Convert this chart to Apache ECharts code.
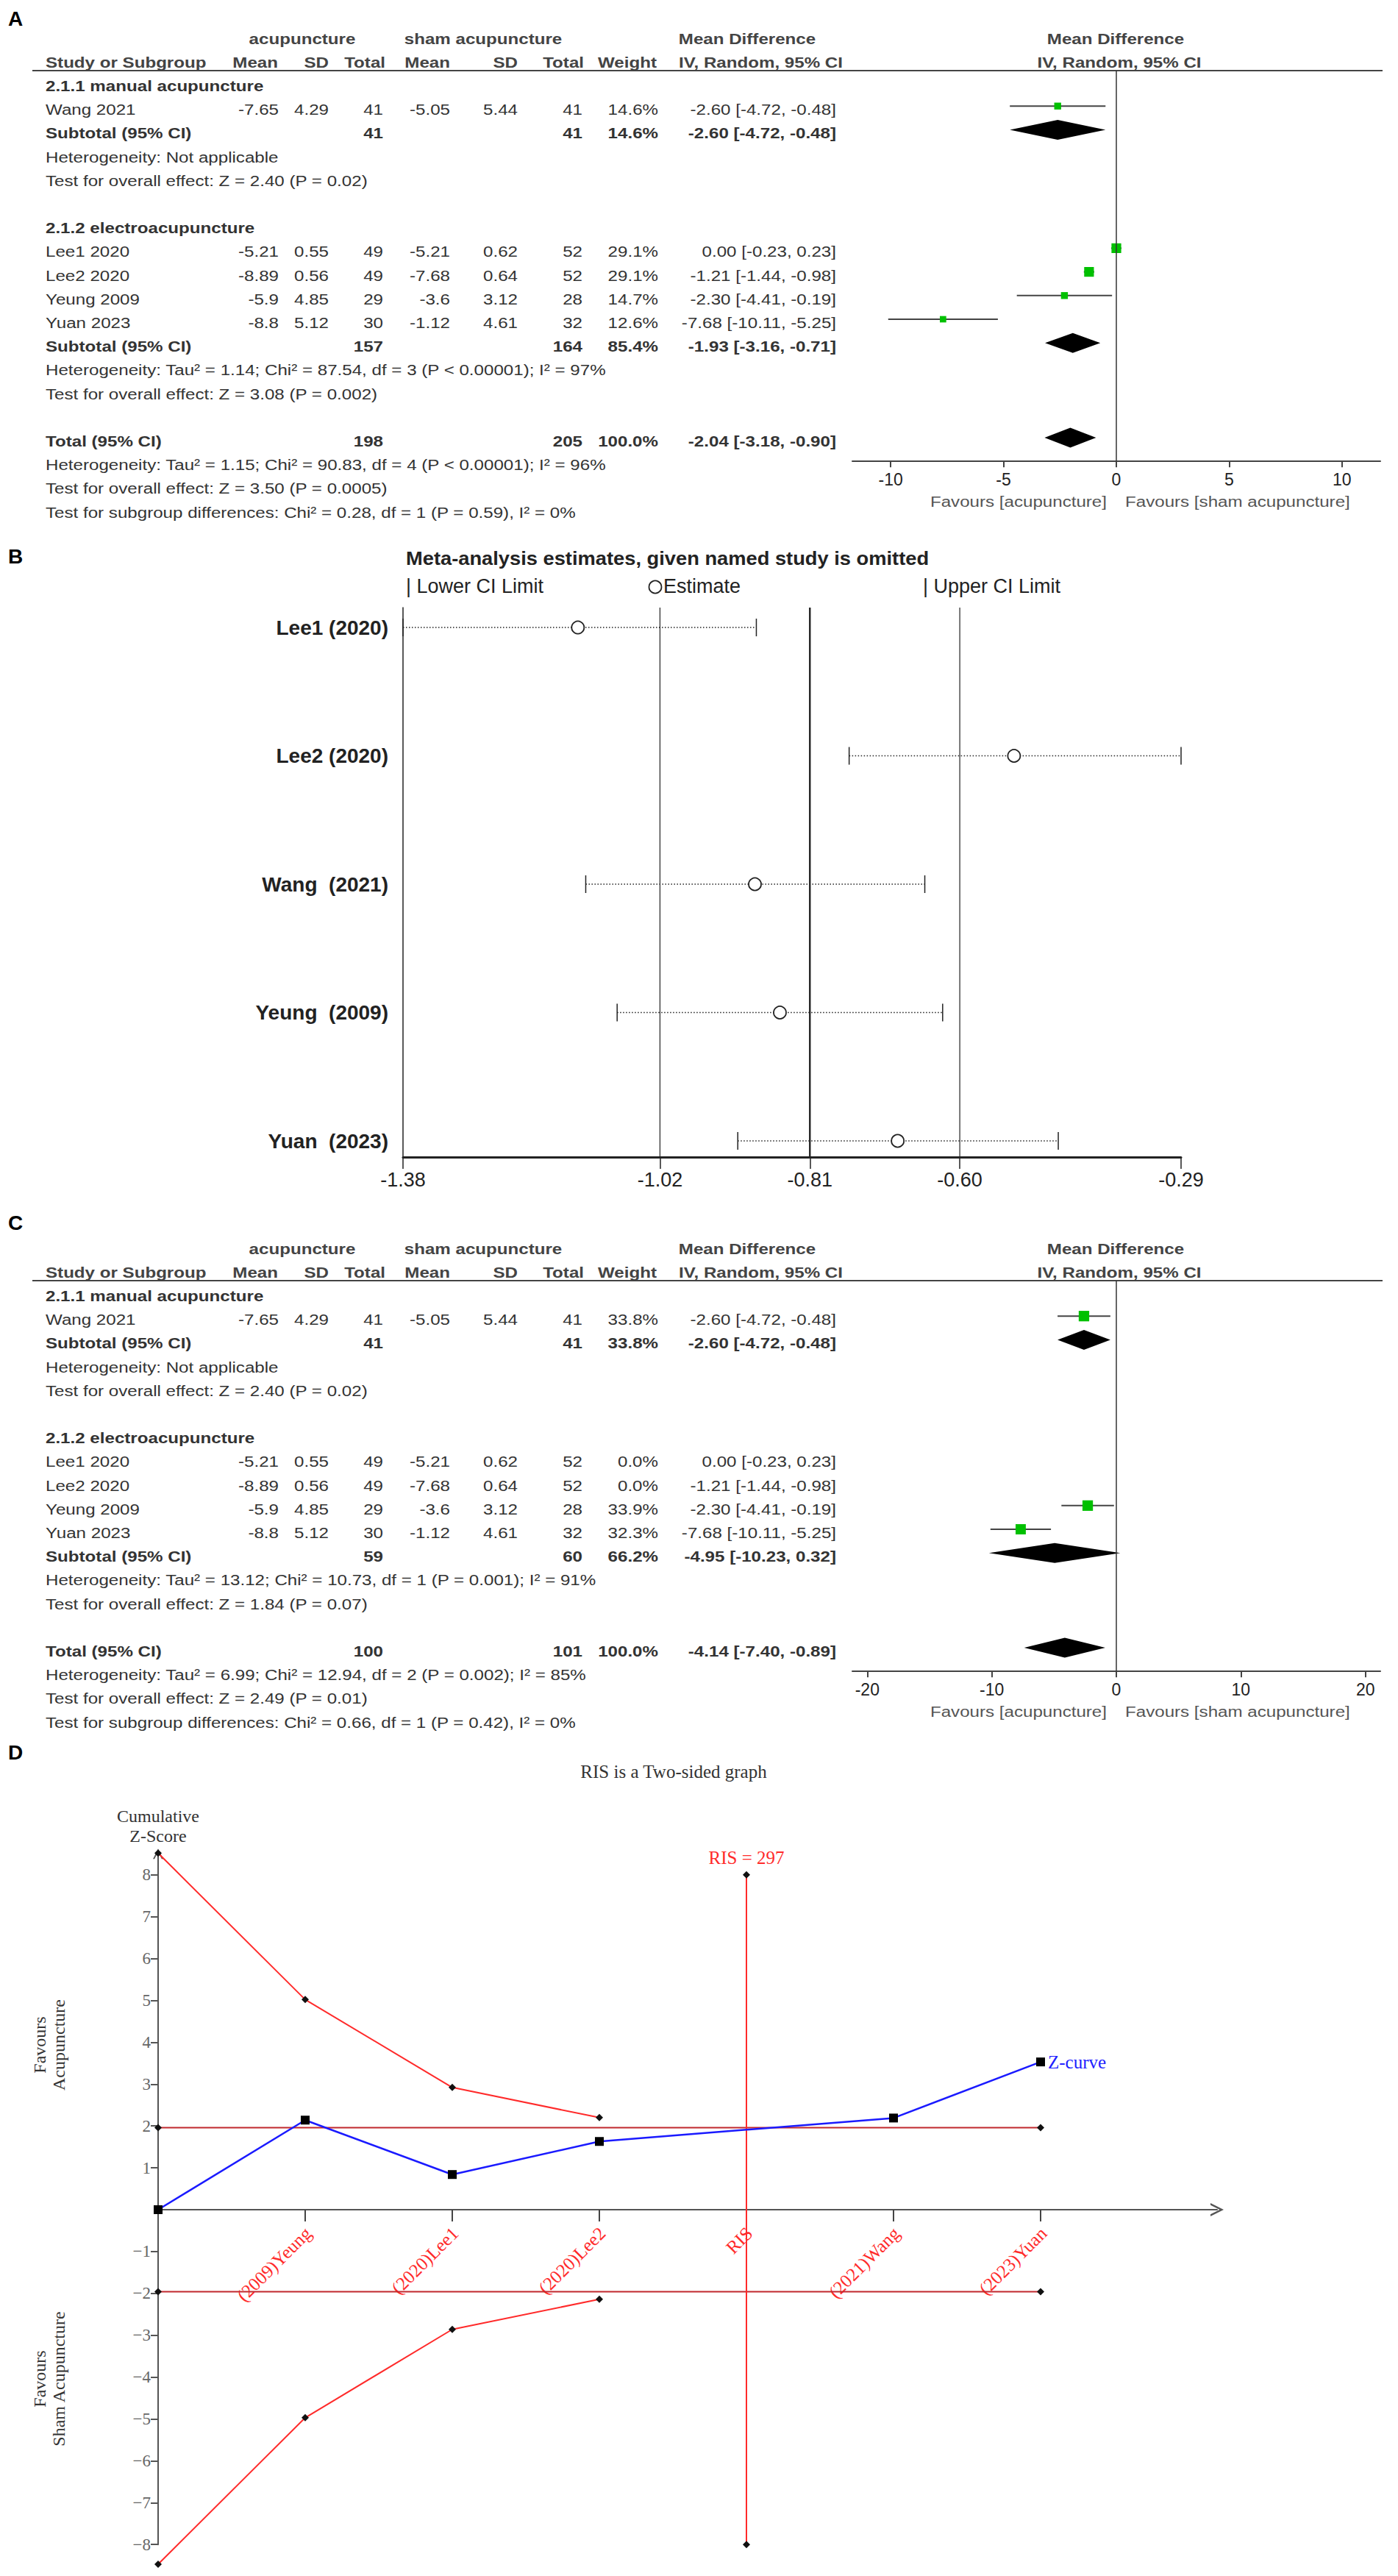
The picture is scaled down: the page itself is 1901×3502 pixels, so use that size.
<!DOCTYPE html>
<html><head><meta charset="utf-8">
<script src="https://cdn.jsdelivr.net/npm/echarts@6/dist/echarts.min.js"></script>
<style>html,body{margin:0;padding:0;background:#fff}#c{width:1901px;height:3502px}</style>
</head><body><div id="c"></div>
<script>
// ================= DATA =================
const studyNames = ['Wang 2021','Lee1 2020','Lee2 2020','Yeung 2009','Yuan 2023'];
const studyGroup = [0,1,1,1,1];
const groupLabels = ['2.1.1 manual acupuncture','2.1.2 electroacupuncture'];
const acuMean = [-7.65,-5.21,-8.89,-5.9,-8.8];
const acuSD = [4.29,0.55,0.56,4.85,5.12];
const acuN = [41,49,49,29,30];
const shamMean = [-5.05,-5.21,-7.68,-3.6,-1.12];
const shamSD = [5.44,0.62,0.64,3.12,4.61];
const shamN = [41,52,52,28,32];
const mdEst = [-2.60,0.00,-1.21,-2.30,-7.68];
const mdLow = [-4.72,-0.23,-1.44,-4.41,-10.11];
const mdHigh = [-0.48,0.23,-0.98,-0.19,-5.25];

// Panel A
const weightA = [14.6,29.1,29.1,14.7,12.6];
const subEstA = [-2.60,-1.93], subLowA = [-4.72,-3.16], subHighA = [-0.48,-0.71];
const subNAcuA = [41,157], subNShamA = [41,164], subWeightA = [14.6,85.4];
const hetA = ['Heterogeneity: Not applicable','Heterogeneity: Tau\u00b2 = 1.14; Chi\u00b2 = 87.54, df = 3 (P < 0.00001); I\u00b2 = 97%'];
const testA = ['Test for overall effect: Z = 2.40 (P = 0.02)','Test for overall effect: Z = 3.08 (P = 0.002)'];
const totalA = [-2.04,-3.18,-0.90], totalNA = [198,205];
const totalTextA = ['Heterogeneity: Tau\u00b2 = 1.15; Chi\u00b2 = 90.83, df = 4 (P < 0.00001); I\u00b2 = 96%','Test for overall effect: Z = 3.50 (P = 0.0005)','Test for subgroup differences: Chi\u00b2 = 0.28, df = 1 (P = 0.59), I\u00b2 = 0%'];
const forestTicksA = [-10,-5,0,5,10];

// Panel C
const weightC = [33.8,0.0,0.0,33.9,32.3];
const subEstC = [-2.60,-4.95], subLowC = [-4.72,-10.23], subHighC = [-0.48,0.32];
const subNAcuC = [41,59], subNShamC = [41,60], subWeightC = [33.8,66.2];
const hetC = ['Heterogeneity: Not applicable','Heterogeneity: Tau\u00b2 = 13.12; Chi\u00b2 = 10.73, df = 1 (P = 0.001); I\u00b2 = 91%'];
const testC = ['Test for overall effect: Z = 2.40 (P = 0.02)','Test for overall effect: Z = 1.84 (P = 0.07)'];
const totalC = [-4.14,-7.40,-0.89], totalNC = [100,101];
const totalTextC = ['Heterogeneity: Tau\u00b2 = 6.99; Chi\u00b2 = 12.94, df = 2 (P = 0.002); I\u00b2 = 85%','Test for overall effect: Z = 2.49 (P = 0.01)','Test for subgroup differences: Chi\u00b2 = 0.66, df = 1 (P = 0.42), I\u00b2 = 0%'];
const forestTicksC = [-20,-10,0,10,20];

// Panel B (leave-one-out)
const omitNames = ['Lee1 (2020)','Lee2 (2020)','Wang  (2021)','Yeung  (2009)','Yuan  (2023)'];
const omitEst = [-1.135,-0.524,-0.887,-0.852,-0.687];
const omitLow = [-1.38,-0.755,-1.124,-1.080,-0.911];
const omitHigh = [-0.885,-0.29,-0.649,-0.624,-0.462];
const overallCI = [-1.02,-0.81,-0.60];
const omitTicks = [-1.38,-1.02,-0.81,-0.60,-0.29];

// Panel D (TSA)
const tsaLabels = ['(2009)Yeung','(2020)Lee1','(2020)Lee2','RIS','(2021)Wang','(2023)Yuan'];
const zCurve = [0, 2.14, 0.84, 1.63, null, 2.19, 3.53];
const upperBound = [8.52, 5.02, 2.92, 2.20];
const lowerBound = [-8.47, -4.97, -2.86, -2.14];
const convBound = 1.96;
const risValue = 297;
const risRange = [8, -8];
const zTicks = [-8,-7,-6,-5,-4,-3,-2,-1,1,2,3,4,5,6,7,8];

// ================= HELPERS =================
const SANS = "'Liberation Sans', Arial, Helvetica, sans-serif";
const SERIF = "'Liberation Serif', 'Times New Roman', Times, serif";
function txt(x, y, text, o){ o = o || {};
  const al = o.align || 'left', va = o.va || 'middle';
  const st = {text:text, x:0, y:0, fill:o.color||'#333', fontSize:o.size||21, fontFamily:o.font||SANS,
    fontWeight:o.weight||'normal', align:al, textAlign:al, verticalAlign:va, textVerticalAlign:va};
  if (o.lh) st.lineHeight = o.lh;
  return {type:'text', x:x, y:y, rotation:o.rot||0, scaleX:o.sx||1, silent:true, style:st};
}
function hline(x1,y1,x2,y2,color,w){ return {type:'line', silent:true, shape:{x1,y1,x2,y2}, style:{stroke:color,lineWidth:w}}; }

function layoutSlots(){
  let s = 0; const g = {head:[], study:new Array(studyNames.length), sub:[], het:[], test:[]};
  for (let k=0;k<groupLabels.length;k++){
    g.head.push(s++);
    studyGroup.forEach((gg,i)=>{ if (gg===k) g.study[i] = s++; });
    g.sub.push(s++); g.het.push(s++); g.test.push(s++); s++;
  }
  g.total = s++; g.totHet = s++; g.totTest = s++; g.subDiff = s++;
  return g;
}
const SL = layoutSlots();
const ROW0 = 117, ROWH = 32.2, TSX = 1.15;
const colR = [379,447,521,612,704,792,895,1137];
const fmt2 = v => v.toFixed(2);
const ciStr = (e,l,h) => fmt2(e)+' ['+fmt2(l)+', '+fmt2(h)+']';

function tableGraphics(offY, P){
  const G = [];
  const T = (x,y,t,o) => G.push(txt(x,y,t,Object.assign({sx:TSX}, o||{})));
  const ry = s => offY + ROW0 + ROWH*s;
  const B = {weight:'bold', color:'#333'};
  const H = {weight:'bold', color:'#444'};
  T(411, offY+53, 'acupuncture', Object.assign({align:'center'},H));
  T(657, offY+53, 'sham acupuncture', Object.assign({align:'center'},H));
  T(1016, offY+53, 'Mean Difference', Object.assign({align:'center'},H));
  T(62, offY+85, 'Study or Subgroup', H);
  const hdr = ['Mean','SD','Total','Mean','SD','Total','Weight','IV, Random, 95% CI'];
  const hdrX = [378,447,524,612,704,794,893,1146];
  hdr.forEach((h,i)=>T(hdrX[i], offY+85, h, Object.assign({align:'right'},H)));
  T(1517, offY+53, 'Mean Difference', Object.assign({align:'center'},H));
  T(1522, offY+85, 'IV, Random, 95% CI', Object.assign({align:'center'},H));
  G.push(hline(44, offY+96, 1880, offY+96, '#444', 2));
  for (let k=0;k<groupLabels.length;k++){
    T(62, ry(SL.head[k]), groupLabels[k], B);
    const ys = ry(SL.sub[k]);
    T(62, ys, 'Subtotal (95% CI)', B);
    T(colR[2], ys, String(P.subNAcu[k]), Object.assign({align:'right'},B));
    T(colR[5], ys, String(P.subNSham[k]), Object.assign({align:'right'},B));
    T(colR[6], ys, P.subW[k].toFixed(1)+'%', Object.assign({align:'right'},B));
    T(colR[7], ys, ciStr(P.subEst[k],P.subLow[k],P.subHigh[k]), Object.assign({align:'right'},B));
    T(62, ry(SL.het[k]), P.het[k]);
    T(62, ry(SL.test[k]), P.test[k]);
  }
  studyNames.forEach((n,i)=>{
    const y = ry(SL.study[i]);
    T(62, y, n);
    const vals = [String(acuMean[i]), String(acuSD[i]), String(acuN[i]), String(shamMean[i]), String(shamSD[i]), String(shamN[i]),
      P.w[i].toFixed(1)+'%', ciStr(mdEst[i], mdLow[i], mdHigh[i])];
    vals.forEach((v,j)=>T(colR[j], y, v, {align:'right'}));
  });
  const yt = ry(SL.total);
  T(62, yt, 'Total (95% CI)', B);
  T(colR[2], yt, String(P.totN[0]), Object.assign({align:'right'},B));
  T(colR[5], yt, String(P.totN[1]), Object.assign({align:'right'},B));
  T(colR[6], yt, '100.0%', Object.assign({align:'right'},B));
  T(colR[7], yt, ciStr(P.tot[0],P.tot[1],P.tot[2]), Object.assign({align:'right'},B));
  T(62, ry(SL.totHet), P.totText[0]);
  T(62, ry(SL.totTest), P.totText[1]);
  T(62, ry(SL.subDiff), P.totText[2]);
  T(1505, offY+682, 'Favours [acupuncture]', {align:'right', color:'#555'});
  T(1530, offY+682, 'Favours [sham acupuncture]', {align:'left', color:'#555'});
  return G;
}

const PA = {w:weightA, subEst:subEstA, subLow:subLowA, subHigh:subHighA, subNAcu:subNAcuA, subNSham:subNShamA, subW:subWeightA, het:hetA, test:testA, tot:totalA, totN:totalNA, totText:totalTextA};
const PC = {w:weightC, subEst:subEstC, subLow:subLowC, subHigh:subHighC, subNAcu:subNAcuC, subNSham:subNShamC, subW:subWeightC, het:hetC, test:testC, tot:totalC, totN:totalNC, totText:totalTextC};
const OFF_C = 1645;

function ciRender(params, api){
  const est=api.value(0), lo=api.value(1), hi=api.value(2), s=api.value(3), w=api.value(4);
  const p0=api.coord([lo,s]), p1=api.coord([hi,s]), pc=api.coord([est,s]);
  const side = 2.45*Math.sqrt(w);
  return {type:'group', children:[
    {type:'line', shape:{x1:p0[0],y1:p0[1],x2:p1[0],y2:p1[1]}, style:{stroke:'#444', lineWidth:2}},
    {type:'rect', shape:{x:pc[0]-side/2, y:pc[1]-side/2, width:side, height:side}, style:{fill:'#00c000'}}
  ]};
}
function diaRender(params, api){
  const est=api.value(0), lo=api.value(1), hi=api.value(2), s=api.value(3);
  const pl=api.coord([lo,s]), ph=api.coord([hi,s]), pc=api.coord([est,s]);
  const h = 13.5;
  return {type:'polygon', shape:{points:[pl,[pc[0],pc[1]-h],ph,[pc[0],pc[1]+h]]}, style:{fill:'#000'}};
}
function forestSeries(idx, P){
  const ci = [];
  studyNames.forEach((n,i)=>{ if (P.w[i] > 0) ci.push([mdEst[i], mdLow[i], mdHigh[i], SL.study[i], P.w[i]]); });
  const dia = [];
  for (let k=0;k<groupLabels.length;k++) dia.push([P.subEst[k], P.subLow[k], P.subHigh[k], SL.sub[k]]);
  dia.push([P.tot[0], P.tot[1], P.tot[2], SL.total]);
  return [
    {type:'line', xAxisIndex:idx, yAxisIndex:idx, data:[[0,-0.5],[0,16]], symbol:'none', silent:true, lineStyle:{color:'#333', width:1.5}},
    {type:'custom', xAxisIndex:idx, yAxisIndex:idx, data:ci, encode:{x:[0,1,2], y:3}, renderItem:ciRender, silent:true},
    {type:'custom', xAxisIndex:idx, yAxisIndex:idx, data:dia, encode:{x:[0,1,2], y:3}, renderItem:diaRender, silent:true}
  ];
}
function forestAxes(idx, ext, ticks){
  return {
    x:{gridIndex:idx, type:'value', min:-ext, max:ext,
      axisLine:{show:true, onZero:false, lineStyle:{color:'#444', width:2}},
      axisTick:{show:true, customValues:ticks, length:8, lineStyle:{color:'#444', width:2}},
      axisLabel:{show:true, customValues:ticks, fontSize:23, color:'#222', fontFamily:SANS, margin:13},
      splitLine:{show:false}},
    y:{gridIndex:idx, type:'value', inverse:true, min:-0.5, max:16, show:false, splitLine:{show:false}}
  };
}

// ================= PANEL B =================
function omitRender(params, api){
  const est=api.value(0), lo=api.value(1), hi=api.value(2), s=api.value(3);
  const pl=api.coord([lo,s]), ph=api.coord([hi,s]), pe=api.coord([est,s]);
  return {type:'group', children:[
    {type:'line', shape:{x1:pl[0],y1:pl[1],x2:ph[0],y2:ph[1]}, style:{stroke:'#222', lineWidth:1.5, lineDash:[1.5,2.5]}},
    {type:'line', shape:{x1:pl[0],y1:pl[1]-12,x2:pl[0],y2:pl[1]+12}, style:{stroke:'#222', lineWidth:1.5}},
    {type:'line', shape:{x1:ph[0],y1:ph[1]-12,x2:ph[0],y2:ph[1]+12}, style:{stroke:'#222', lineWidth:1.5}},
    {type:'circle', shape:{cx:pe[0], cy:pe[1], r:8.5}, style:{fill:'#fff', stroke:'#222', lineWidth:1.8}}
  ]};
}
const omitData = omitNames.map((n,i)=>[omitEst[i], omitLow[i], omitHigh[i], i]);
const B_YMIN = -0.155, B_YMAX = 4.126;

// ================= PANEL D =================
const chev = 'path://M0,20 L10,0 L20,20 L17,20 L10,6 L3,20 Z';
const zData = zCurve.map((v,i)=> v===null ? null : [i,v]).filter(d=>d!==null);
const zSeriesData = zData.map((d,i)=> i===zData.length-1 ?
  {value:d, label:{show:true, position:'right', formatter:'Z-curve', color:'#2020ff', fontFamily:SERIF, fontSize:25, distance:4}} : {value:d});
const risX = tsaLabels.indexOf('RIS') + 1;
const lastX = tsaLabels.length;
function tsaLabelRender(params, api){
  const p = api.coord([api.value(0), 0]);
  return {type:'text', x:p[0]+4, y:p[1]+28, rotation:Math.PI/4,
    style:{text:tsaLabels[params.dataIndex], fill:'#ff2a2a', fontSize:25, fontFamily:SERIF,
      align:'right', textAlign:'right', verticalAlign:'middle', textVerticalAlign:'middle'}};
}

// ================= OPTION =================
const fa = forestAxes(0, 11.7, forestTicksA);
const fc = forestAxes(2, 21.2, forestTicksC);

const graphics = [].concat(
  [txt(11, 25, 'A', {size:28, weight:'bold', color:'#000'}),
   txt(11, 756, 'B', {size:28, weight:'bold', color:'#000'}),
   txt(11, 1662, 'C', {size:28, weight:'bold', color:'#000'}),
   txt(11, 2382, 'D', {size:28, weight:'bold', color:'#000'})],
  tableGraphics(0, PA),
  tableGraphics(OFF_C, PC),
  [txt(552, 759, 'Meta-analysis estimates, given named study is omitted', {size:26, weight:'bold', color:'#222', sx:1.05}),
   txt(552, 797, '| Lower CI Limit', {size:27, color:'#222'}),
   {type:'circle', silent:true, shape:{cx:891, cy:798, r:8.5}, style:{fill:'none', stroke:'#222', lineWidth:1.8}},
   txt(902, 797, 'Estimate', {size:27, color:'#222'}),
   txt(1255, 797, '| Upper CI Limit', {size:27, color:'#222'}),
   txt(916, 2408, 'RIS is a Two-sided graph', {size:25, font:SERIF, color:'#333', align:'center'}),
   txt(215, 2482, 'Cumulative\nZ-Score', {size:24, font:SERIF, color:'#333', align:'center', lh:27}),
   txt(67, 2780, 'Favours\nAcupuncture', {size:24, font:SERIF, color:'#333', align:'center', rot:Math.PI/2, lh:26}),
   txt(67, 3234, 'Favours\nSham Acupuncture', {size:24, font:SERIF, color:'#333', align:'center', rot:Math.PI/2, lh:26})]
);

const option = {
  backgroundColor:'#fff',
  animation:false,
  grid:[
    {left:1159, top:95.9, width:718, height:531.3},
    {left:548, top:826, width:1058, height:747},
    {left:1159, top:95.9+OFF_C, width:718, height:531.3},
    {left:215, top:3004-8.5*56.9, width:1440, height:16.5*56.9}
  ],
  xAxis:[
    fa.x,
    {gridIndex:1, type:'value', min:-1.38, max:-0.29,
      axisLine:{show:true, onZero:false, lineStyle:{color:'#222', width:3}},
      axisTick:{show:true, customValues:omitTicks, length:16, lineStyle:{color:'#222', width:1.5}},
      axisLabel:{show:true, customValues:omitTicks, formatter:v=>v.toFixed(2), fontSize:27, color:'#222', fontFamily:SANS, margin:17},
      splitLine:{show:false}},
    fc.x,
    {gridIndex:3, type:'value', min:0, max:7.2,
      axisLine:{show:true, onZero:true, symbol:['none', chev], symbolSize:[18,20], lineStyle:{color:'#555', width:2}},
      axisTick:{show:true, customValues:[1,2,3,4,5,6], length:16, lineStyle:{color:'#444', width:2}},
      axisLabel:{show:false},
      splitLine:{show:false}}
  ],
  yAxis:[
    fa.y,
    {gridIndex:1, type:'value', inverse:true, min:B_YMIN, max:B_YMAX,
      axisLine:{show:true, onZero:false, lineStyle:{color:'#222', width:1.5}},
      axisTick:{show:false},
      axisLabel:{show:true, customValues:[0,1,2,3,4], formatter:v=>omitNames[Math.round(v)], fontSize:28, fontWeight:'bold', color:'#222', fontFamily:SANS, margin:20},
      splitLine:{show:false}},
    fc.y,
    {gridIndex:3, type:'value', min:-8, max:8.5,
      axisLine:{show:true, onZero:true, symbol:['none', chev], symbolSize:[14,16], lineStyle:{color:'#555', width:2}},
      axisTick:{show:true, customValues:zTicks, length:10, lineStyle:{color:'#555', width:2}},
      axisLabel:{show:true, customValues:zTicks, formatter:v=> v<0 ? '\u2212'+(-v) : String(v), color:'#666', fontFamily:SERIF, fontSize:23, margin:10},
      splitLine:{show:false}}
  ],
  series:[].concat(
    forestSeries(0, PA),
    forestSeries(2, PC),
    overallCI.map((v,i)=>({type:'line', xAxisIndex:1, yAxisIndex:1, data:[[v,B_YMIN],[v,B_YMAX]], symbol:'none', silent:true,
      lineStyle:{color:'#222', width: i===1 ? 2.4 : 1.2}})),
    [{type:'custom', xAxisIndex:1, yAxisIndex:1, data:omitData, encode:{x:[0,1,2], y:3}, renderItem:omitRender, silent:true},
     {type:'custom', xAxisIndex:3, yAxisIndex:3, data:tsaLabels.map((l,i)=>[i+1, 0]), encode:{x:0, y:1}, renderItem:tsaLabelRender, silent:true, clip:false},
     {type:'line', xAxisIndex:3, yAxisIndex:3, clip:false, data:[[0,convBound],[lastX,convBound]], symbol:'diamond', symbolSize:10,
      itemStyle:{color:'#111'}, lineStyle:{color:'#c0282d', width:2}, silent:true},
     {type:'line', xAxisIndex:3, yAxisIndex:3, clip:false, data:[[0,-convBound],[lastX,-convBound]], symbol:'diamond', symbolSize:10,
      itemStyle:{color:'#111'}, lineStyle:{color:'#c0282d', width:2}, silent:true},
     {type:'line', xAxisIndex:3, yAxisIndex:3, clip:false, data:upperBound.map((v,i)=>[i,v]), symbol:'diamond', symbolSize:10,
      itemStyle:{color:'#111'}, lineStyle:{color:'#ff2a2a', width:2}, silent:true},
     {type:'line', xAxisIndex:3, yAxisIndex:3, clip:false, data:lowerBound.map((v,i)=>[i,v]), symbol:'diamond', symbolSize:10,
      itemStyle:{color:'#111'}, lineStyle:{color:'#ff2a2a', width:2}, silent:true},
     {type:'line', xAxisIndex:3, yAxisIndex:3, clip:false, data:[
        {value:[risX, risRange[0]], label:{show:true, position:'top', formatter:'RIS = '+risValue, color:'#ff2a2a', fontFamily:SERIF, fontSize:25, distance:6}},
        {value:[risX, risRange[1]]}], symbol:'diamond', symbolSize:10,
      itemStyle:{color:'#111'}, lineStyle:{color:'#ff2a2a', width:2}, silent:true},
     {type:'line', xAxisIndex:3, yAxisIndex:3, clip:false, data:zSeriesData, symbol:'rect', symbolSize:12,
      itemStyle:{color:'#000'}, lineStyle:{color:'#1a1aff', width:2.5}, silent:true, z:5}]
  ),
  graphic:{elements:graphics}
};
const chart = echarts.init(document.getElementById('c'), null, {renderer:'svg', width:1901, height:3502});
chart.setOption(option);
</script></body></html>
